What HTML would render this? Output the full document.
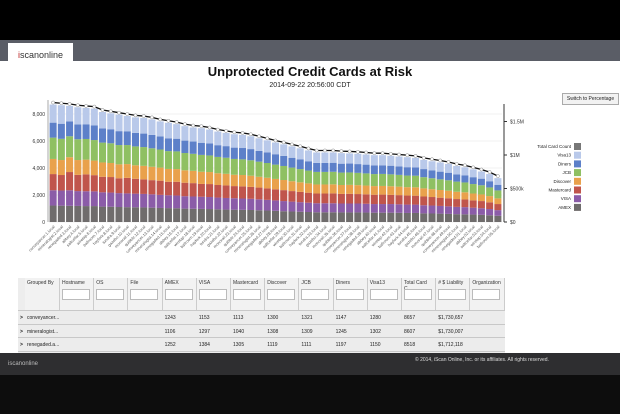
<!DOCTYPE html>
<html><head><meta charset="utf-8"><style>
body{margin:0;width:620px;height:414px;overflow:hidden;background:#fff;font-family:"Liberation Sans",sans-serif;position:relative}
.abs{position:absolute}
.tbl{position:absolute;left:18px;top:278px;width:487px;height:75px;background:#ededed;overflow:hidden}
.hc{position:absolute;top:0;height:32px;border-right:1px solid #ccc;font-size:5px;color:#333;box-sizing:border-box;padding:2px 2px;background:#f2f2f2}
.hc input{position:absolute;left:2px;top:11px;width:28px;height:11px;border:1px solid #bbb;background:#fff;padding:0;box-sizing:border-box}
.row{position:absolute;left:0;width:487px;height:13px;background:#ececec;border-top:1px solid #c8c8c8;font-size:5px;color:#222}
.row span{position:absolute;top:4px}
</style></head><body>
<div class="abs" style="left:0;top:0;width:620px;height:40px;background:#000"></div>
<div class="abs" style="left:0;top:40px;width:620px;height:21px;background:#5a5d66"></div>
<div class="abs" style="left:8px;top:43px;width:65px;height:18px;background:#fff;font-size:9px;color:#333;line-height:24px;text-align:center"><span style="color:#b22">i</span>scanonline</div>
<div class="abs" style="left:0;width:620px;top:64px;text-align:center;font-size:13px;font-weight:bold;color:#111">Unprotected Credit Cards at Risk</div>
<div class="abs" style="left:0;width:620px;top:82px;text-align:center;font-size:7px;color:#222">2014-09-22 20:56:00 CDT</div>
<div class="abs" style="left:562px;top:93px;width:55px;height:10px;border:1px solid #aaa;background:#f2f2f2;font-size:5px;line-height:10px;text-align:center;color:#222">Switch to Percentage</div>
<svg class="abs" style="left:0;top:0" width="620" height="280" id="chart"></svg>
<div class="tbl" id="tbl"></div>
<div class="abs" style="left:0;top:353px;width:620px;height:22px;background:#2e2e30"></div>
<div class="abs" style="left:8px;top:361px;font-size:6px;color:#bbb">iscanonline</div>
<div class="abs" style="left:415px;top:357px;font-size:5px;color:#ddd">© 2014, iScan Online, Inc. or its affiliates. All rights reserved.</div>
<div class="abs" style="left:0;top:375px;width:620px;height:39px;background:#0d0d0d"></div>
<script>
const totalsLabel="Total Card Count";
const seriesNames=["AMEX","VISA","Mastercard","Discover","JCB","Diners","Visa13"];
const seriesColors=["#6f6c6c","#8b5ca8","#c0554c","#e9a14c","#8fc062","#5d80c9","#b9c9ea"];
const amex=[1220,1210,1200,1190,1180,1180,1140,1130,1110,1100,1090,1080,1060,1040,1030,1020,990,980,970,960,940,920,910,900,890,870,850,830,800,780,760,740,720,720,720,710,710,710,700,690,690,690,680,670,670,640,630,620,600,580,570,550,530,500,460];
const visa=[1130,1120,1150,1100,1100,1090,1060,1050,1030,1020,1010,1000,990,970,950,940,920,910,900,890,870,860,850,840,830,810,790,770,750,730,710,690,670,670,670,660,660,660,650,640,640,640,630,620,620,600,590,570,560,540,530,510,490,460,420];
const mastercard=[1200,1150,1350,1200,1250,1200,1150,1150,1100,1150,1100,1080,1050,1050,1000,1020,1000,990,950,960,930,930,900,900,880,870,850,820,810,780,760,740,720,720,730,710,720,700,700,690,700,680,680,670,660,650,630,610,600,580,570,540,530,500,450];
const discover=[1120,1110,1100,1100,1090,1080,1060,1040,1030,1020,1000,1000,990,970,950,940,920,910,900,890,870,860,840,840,830,800,790,770,750,730,710,690,670,670,670,660,660,660,650,640,640,640,630,620,620,600,580,570,560,540,530,510,490,460,420];
const jcb=[1580,1570,1550,1540,1530,1520,1470,1460,1430,1410,1400,1390,1370,1340,1320,1310,1280,1260,1250,1230,1210,1190,1170,1160,1140,1120,1090,1060,1040,1010,980,950,930,930,930,920,920,910,900,890,890,880,870,860,860,830,810,790,770,750,730,700,680,640,590];
const diners=[1110,1120,1100,1100,1090,1080,1050,1040,1030,1020,1000,1000,990,970,950,940,920,910,900,890,870,860,840,840,830,800,790,770,750,730,710,690,670,670,670,660,660,650,650,640,640,640,630,620,620,600,590,570,560,540,530,510,490,460,420];
const visa13=[1340,1370,1150,1270,1210,1250,1220,1180,1220,1130,1150,1150,1150,1110,1150,1080,1070,1040,1080,1030,1010,980,990,970,950,930,890,870,850,840,830,800,770,770,760,780,750,760,750,760,750,730,730,740,700,680,670,680,650,620,590,580,530,530,490];
const leftTicks=[0,2000,4000,6000,8000];
const leftTickLabels=["0","2,000","4,000","6,000","8,000"];
const rightTicks=[0,500000,1000000,1500000];
const rightTickLabels=["$0","$500k","$1M","$1.5M"];
const hostWords=["conveyancer","mineralogist","renegaded","abbey","saltcellar","wiretap","ballroom","hayfork","tundra","gazebo","monorail","quibble"];
const series=[amex,visa,mastercard,discover,jcb,diners,visa13];
const N=amex.length;
const categories=[];for(let i=0;i<N;i++)categories.push(hostWords[i%hostWords.length]+"."+(i+1)+".local");
const X0=49,X1=502,Y0=222;
const yL=v=>Y0-v/2000*27;
const yR=v=>Y0-v/500000*33.5;
const pitch=(X1-X0)/N;
const xB=i=>X0+i*pitch;
const NS="http://www.w3.org/2000/svg";
const svg=document.getElementById('chart');
function mk(t,a,txt){const e=document.createElementNS(NS,t);for(const k in a)e.setAttribute(k,a[k]);if(txt!==undefined)e.textContent=txt;svg.appendChild(e);return e;}
leftTicks.forEach((v,i)=>{
 const g=mk('line',{x1:X0,x2:X1,y1:yL(v),y2:yL(v),stroke:'#f0f0f0'});
 const t=mk('text',{x:X0-4,y:yL(v)+2,'font-size':5,'text-anchor':'end',fill:'#333'},leftTickLabels[i]);
 
 
});
rightTicks.forEach((v,i)=>{
 mk('line',{x1:X1+2,x2:X1+5,y1:yR(v),y2:yR(v),stroke:'#333'});
 const t=mk('text',{x:X1+8,y:yR(v)+2,'font-size':5,fill:'#333'},rightTickLabels[i]);
 
 
});
mk('line',{x1:X0-1,x2:X0-1,y1:Y0,y2:100,stroke:'#aaa'});
mk('line',{x1:X1+2,x2:X1+2,y1:Y0,y2:104,stroke:'#333'});
const pts=[];
for(let i=0;i<N;i++){
 let acc=0;
 for(let s=0;s<series.length;s++){
  const v=series[s][i]||0;
  const r=mk('rect',{x:xB(i)+0.6,y:yL(acc+v),width:pitch-1.2,height:yL(acc)-yL(acc+v),fill:seriesColors[s]});
  
  
  acc+=v;
 }
 pts.push([xB(i)+pitch/2,yL(acc)-2]);
 const t=mk('text',{x:xB(i)+pitch/2+2,y:Y0+5,'font-size':4,fill:'#555',transform:`rotate(-45 ${xB(i)+pitch/2+2} ${Y0+5})`,'text-anchor':'end'},categories[i]);
 
 
}
const line=mk('polyline',{points:pts.map(p=>p.join(',')).join(' '),fill:'none',stroke:'#111','stroke-width':1.3});


pts.forEach(p=>{const c=mk('circle',{cx:p[0],cy:p[1],r:1.6,fill:'#fff',stroke:'#888','stroke-width':0.5});
 
 });
const legNames=[totalsLabel].concat(seriesNames.slice().reverse());
const legColors=["#777"].concat(seriesColors.slice().reverse());
legNames.forEach((n,i)=>{const y=146+i*8.7;
 const t=mk('text',{x:571,y:y+2,'font-size':4.5,'text-anchor':'end',fill:'#222'},n);
 
 
 mk('rect',{x:574,y:y-3,width:7,height:7,fill:legColors[i]});});
// table
const tbl=document.getElementById('tbl');
const cols=["Grouped By","Hostname","OS","File","AMEX","VISA","Mastercard","Discover","JCB","Diners","Visa13","Total Card C...","# $ Liability","Organization"];
const rows=[["conveyancer...","1243","1153","1113","1300","1321","1147","1280","8657","$1,730,657"],["mineralogist...","1106","1297","1040","1308","1309","1245","1302","8607","$1,730,007"],["renegaded.a...","1252","1384","1305","1119","1111","1197","1150","8518","$1,712,118"]];
const cx=i=>i==0?7:7+35+ (i-1)*34.2;
cols.forEach((c,i)=>{const d=document.createElement('div');d.className='hc';d.style.left=cx(i)+'px';d.style.width=(i==0?35:34.2)+'px';d.textContent=c;
 
 
 if(i>0){const inp=document.createElement('input');
 
 
 d.appendChild(inp);}
 tbl.appendChild(d);});
rows.forEach((r,k)=>{const d=document.createElement('div');d.className='row';d.style.top=(32+k*13.5)+'px';
 
 
 let h=`<span style="left:2px;font-weight:bold">&gt;</span><span style="left:9px">${r[0]}</span>`;
 for(let j=1;j<r.length;j++)h+=`<span style="left:${cx(j+3)+2}px">${r[j]}</span>`;
 d.innerHTML=h;tbl.appendChild(d);});
const last=document.createElement('div');last.className='row';last.style.top=(32+3*13.5)+'px';


tbl.appendChild(last);
</script>
</body></html>
